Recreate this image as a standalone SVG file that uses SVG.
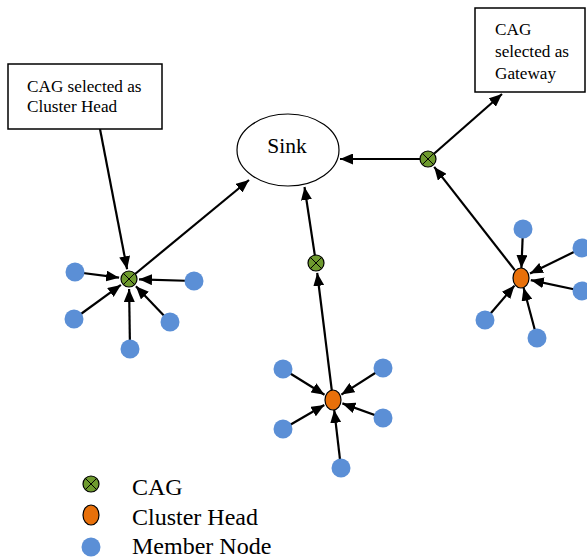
<svg xmlns="http://www.w3.org/2000/svg" width="587" height="559" viewBox="0 0 587 559">
<style>
.box{fill:#fff;stroke:#000;stroke-width:1.5}
.bt{font-family:"Liberation Serif",serif;font-size:17.2px;fill:#000}
.lt{font-family:"Liberation Serif",serif;font-size:24px;fill:#000}
.c{stroke:#000;stroke-width:2.2;fill:none;marker-end:url(#ah)}
.cag{fill:#6E9A2E;stroke:#000;stroke-width:1.2}
.x{stroke:#000;stroke-width:1}
.ch{fill:#E8700A;stroke:#000;stroke-width:1.2}
.m{fill:#5B8FD6}
</style>
<defs>
<marker id="ah" viewBox="0 0 13 11" refX="13" refY="5.5" markerWidth="13" markerHeight="11" markerUnits="userSpaceOnUse" orient="auto">
<path d="M0,0 L13,5.5 L0,11 z" fill="#000"/>
</marker>
<g id="cagsym">
<circle r="8" class="cag"/>
<path d="M-5.6,-5.6 L5.6,5.6 M-5.6,5.6 L5.6,-5.6" class="x"/>
</g>
</defs>
<rect width="587" height="559" fill="#fff"/>
<g id="connectors">
<line x1="100" y1="129" x2="127.1" y2="269.2" class="c"/>
<line x1="75" y1="272" x2="119.1" y2="277.7" class="c"/>
<line x1="194" y1="281" x2="139" y2="279.3" class="c"/>
<line x1="74" y1="319" x2="120.9" y2="284.9" class="c"/>
<line x1="170" y1="322" x2="135.9" y2="286.2" class="c"/>
<line x1="130" y1="349" x2="129.1" y2="289" class="c"/>
<line x1="129" y1="279" x2="249" y2="180" class="c"/>
<line x1="428" y1="159" x2="340" y2="159" class="c"/>
<line x1="316" y1="263" x2="304.5" y2="187" class="c"/>
<line x1="333" y1="400" x2="317.2" y2="272.9" class="c"/>
<line x1="283" y1="369" x2="324.5" y2="394.7" class="c"/>
<line x1="383" y1="368" x2="341.4" y2="394.6" class="c"/>
<line x1="283" y1="429" x2="324.3" y2="405" class="c"/>
<line x1="383" y1="418" x2="342.4" y2="403.4" class="c"/>
<line x1="341" y1="468" x2="334.2" y2="409.9" class="c"/>
<line x1="523" y1="229" x2="521.4" y2="268" class="c"/>
<line x1="582" y1="248" x2="530" y2="273.6" class="c"/>
<line x1="582" y1="291" x2="530.8" y2="280.1" class="c"/>
<line x1="485" y1="320" x2="514.5" y2="285.6" class="c"/>
<line x1="537" y1="338" x2="523.6" y2="287.7" class="c"/>
<line x1="514.8" y1="270.1" x2="434.2" y2="166.9" class="c"/>
<line x1="428" y1="159" x2="502" y2="94" class="c"/>
</g>
<g id="box-ch">
<rect x="8" y="64" width="154" height="65" class="box"/>
<text x="27" y="92" class="bt">CAG selected as</text>
<text x="27" y="112" class="bt">Cluster Head</text>
</g>
<g id="box-gw">
<rect x="475" y="8" width="110" height="84" class="box"/>
<text x="495" y="35" class="bt">CAG</text>
<text x="495" y="57" class="bt">selected as</text>
<text x="495" y="79" class="bt">Gateway</text>
</g>
<g id="sink">
<ellipse cx="288" cy="150" rx="51" ry="36" fill="#fff" stroke="#000" stroke-width="1.2"/>
<text x="287" y="153" text-anchor="middle" font-family="Liberation Serif, serif" font-size="21.5">Sink</text>
</g>
<g id="cag-left"><use href="#cagsym" x="129" y="279"/></g>
<g id="cag-mid"><use href="#cagsym" x="316" y="263"/></g>
<g id="cag-right"><use href="#cagsym" x="428" y="159"/></g>
<g id="ch-mid"><ellipse cx="333" cy="400" rx="8" ry="10" class="ch"/></g>
<g id="ch-right"><ellipse cx="521" cy="278" rx="8" ry="10" class="ch"/></g>
<g id="members-left">
<circle cx="75" cy="272" r="9.5" class="m"/>
<circle cx="194" cy="281" r="9.5" class="m"/>
<circle cx="74" cy="319" r="9.5" class="m"/>
<circle cx="170" cy="322" r="9.5" class="m"/>
<circle cx="130" cy="349" r="9.5" class="m"/>
</g>
<g id="members-mid">
<circle cx="283" cy="369" r="9.5" class="m"/>
<circle cx="383" cy="368" r="9.5" class="m"/>
<circle cx="283" cy="429" r="9.5" class="m"/>
<circle cx="383" cy="418" r="9.5" class="m"/>
<circle cx="341" cy="468" r="9.5" class="m"/>
</g>
<g id="members-right">
<circle cx="523" cy="229" r="9.5" class="m"/>
<circle cx="582" cy="248" r="9.5" class="m"/>
<circle cx="582" cy="291" r="9.5" class="m"/>
<circle cx="485" cy="320" r="9.5" class="m"/>
<circle cx="537" cy="338" r="9.5" class="m"/>
</g>
<g id="legend">
<use href="#cagsym" x="91" y="484"/>
<text x="132" y="495" class="lt">CAG</text>
<ellipse cx="91" cy="515" rx="8" ry="10" class="ch"/>
<text x="132" y="525" class="lt">Cluster Head</text>
<circle cx="91" cy="547" r="9.5" class="m"/>
<text x="132" y="554" class="lt">Member Node</text>
</g>
</svg>
